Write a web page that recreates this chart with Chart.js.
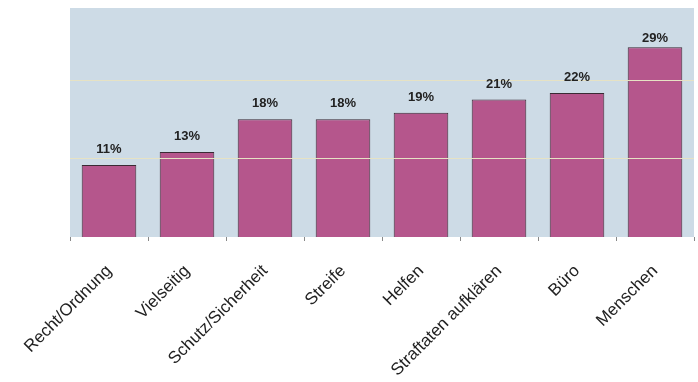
<!DOCTYPE html>
<html>
<head>
<meta charset="utf-8">
<script src="https://cdn.jsdelivr.net/npm/chart.js@4"></script>
<style>
  html, body { margin: 0; padding: 0; background: #fff; }
  #wrap { width: 698px; height: 382px; }
</style>
</head>
<body>
<div id="wrap"><canvas id="chart"></canvas></div>
<script>
const categories = [
    'Recht/Ordnung',
    'Vielseitig',
    'Schutz/Sicherheit',
    'Streife',
    'Helfen',
    'Straftaten aufklären',
    'Büro',
    'Menschen'
];
const values = [11, 13, 18, 18, 19, 21, 22, 29];
const gridTicks = [12, 24];

const ctx = document.getElementById('chart');

// plot background
const plotBg = {
    id: 'plotBg',
    beforeDraw(chart) {
        const a = chart.chartArea;
        const c = chart.ctx;
        c.save();
        c.fillStyle = '#cddbe6';
        c.fillRect(a.left, a.top, a.right - a.left, a.bottom - a.top);
        c.restore();
    }
};

// percent labels above bars + light gridlines over the bars
const barLabels = {
    id: 'barLabels',
    afterDatasetsDraw(chart) {
        const c = chart.ctx;
        const a = chart.chartArea;
        const y = chart.scales.y;
        c.save();
        c.strokeStyle = '#e6e2c4';
        c.lineWidth = 1;
        gridTicks.forEach(v => {
            const py = Math.round(y.getPixelForValue(v)) + 0.5;
            c.beginPath();
            c.moveTo(a.left, py);
            c.lineTo(a.right, py);
            c.stroke();
        });
        c.fillStyle = '#222';
        c.font = 'bold 13px "Liberation Sans", Arial, sans-serif';
        c.textAlign = 'center';
        c.textBaseline = 'alphabetic';
        chart.getDatasetMeta(0).data.forEach((bar, i) => {
            // keep the tallest label inside the plot, like the original
            const ty = Math.max(bar.y - 12, a.top + 34);
            c.fillText(values[i] + '%', bar.x, ty);
        });
        c.restore();
    }
};

new Chart(ctx, {
    type: 'bar',
    data: {
        labels: categories,
        datasets: [{
            data: values,
            backgroundColor: '#b5568c',
            borderColor: '#3a2a34',
            borderWidth: 1,
            categoryPercentage: 0.7,
            barPercentage: 1
        }]
    },
    options: {
        responsive: true,
        maintainAspectRatio: false,
        animation: false,
        layout: {
            padding: { left: 70, top: 8, right: 4, bottom: 0 }
        },
        plugins: {
            legend: { display: false },
            tooltip: { enabled: false }
        },
        scales: {
            x: {
                offset: true,
                grid: {
                    offset: true,
                    drawOnChartArea: false,
                    tickLength: 4,
                    color: '#888'
                },
                border: { display: false },
                ticks: {
                    autoSkip: false,
                    maxRotation: 45,
                    minRotation: 45,
                    padding: 20,
                    color: '#222',
                    font: { family: '"Liberation Sans", Arial, sans-serif', size: 17 }
                },
                afterFit(scale) {
                    scale.height = 145;
                }
            },
            y: {
                display: false,
                min: 0,
                max: 35
            }
        }
    },
    plugins: [plotBg, barLabels]
});
</script>
</body>
</html>
